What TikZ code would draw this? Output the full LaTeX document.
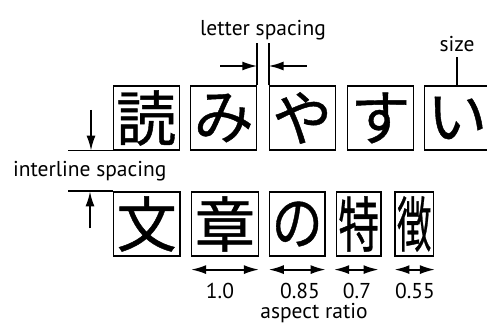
\documentclass[tikz,border=0pt]{standalone}
\usepackage{fontspec}
\usepackage{graphicx}
\setmainfont{PT Sans}
\newfontfamily\cjk[FakeBold=0.7]{Noto Sans CJK JP}
\usetikzlibrary{arrows.meta}
\tikzset{
  kbox/.style={draw, line width=1.2pt, inner sep=0pt, minimum height=64pt, font=\cjk\fontsize{60}{60}\selectfont},
  lbl/.style={inner sep=0pt, anchor=base, font=\fontsize{21.5}{21.5}\selectfont},
  ln/.style={line width=1.8pt},
  arr/.style={line width=1.8pt, -{Latex[length=15pt,width=9pt]}},
  darr/.style={line width=1.8pt, {Latex[length=15pt,width=9pt]}-{Latex[length=15pt,width=9pt]}}
}
\begin{document}
\begin{tikzpicture}[x=1pt,y=-1pt]
\useasboundingbox (0,0) rectangle (487,323);
% top row
\node[kbox, minimum width=66pt] (b1) at (146.3,118) {読};
\node[kbox, minimum width=66pt] (b2) at (223.7,118) {み};
\node[kbox, minimum width=66pt] (b3) at (302.2,118) {や};
\node[kbox, minimum width=66pt] (b4) at (380.5,118) {す};
\node[kbox, minimum width=66pt] (b5) at (457.2,118) {い};
% bottom row
\node[kbox, minimum width=66.7pt] (w1) at (146.7,224) {文};
\node[kbox, minimum width=66.7pt] (w2) at (225,224) {章};
\node[kbox, minimum width=55.7pt] (w3) at (297.2,224) {\scalebox{0.85}[1]{の}};
\node[kbox, minimum width=44.3pt] (w4) at (358.8,224) {\scalebox{0.68}[1]{特}};
\node[kbox, minimum width=38.3pt] (w5) at (414.2,224) {\scalebox{0.57}[1]{徴}};
% labels
\node[lbl] (tls) at (263,36) {letter spacing};
\node[lbl] (tsz) at (457,51.7) {size};
\node[lbl] (til) at (89.7,176.7) {interline spacing};
\node[lbl] (r1) at (220,298.3) {1.0};
\node[lbl] (r2) at (300,298.3) {0.85};
\node[lbl] (r3) at (357,298.3) {0.7};
\node[lbl] (r4) at (415,298.3) {0.55};
\node[lbl] (tar) at (314,318) {aspect ratio};
% letter spacing
\coordinate (lsA) at (b2.north east |- 0,43.5);
\coordinate (lsB) at (b3.north west |- 0,43.5);
\draw[ln] (b2.north east) -- (lsA);
\draw[ln] (b3.north west) -- (lsB);
\coordinate (lsL) at (220,66);
\coordinate (lsR) at (306.7,66);
\draw[arr] (lsL) -- (lsL -| b2.north east);
\draw[arr] (lsR) -- (lsR -| b3.north west);
% size
\coordinate (szT) at (b5.north |- 0,57);
\draw[ln] (b5.north) -- (szT);
% interline
\coordinate (blL) at (68.3,0 |- b1.south);
\draw[ln] (blL) -- (b1.south west);
\coordinate (dnA) at (91,110);
\draw[arr] (dnA) -- (dnA |- b1.south);
\coordinate (tlL) at (68.3,0 |- w1.north);
\draw[ln] (tlL) -- (w1.north west);
\coordinate (upA) at (90,228.3);
\draw[arr] (upA) -- (upA |- w1.north);
% aspect arrows
\draw[darr] ([yshift=-13pt]w2.south west) -- ([yshift=-13pt]w2.south east);
\draw[darr] ([yshift=-13pt]w3.south west) -- ([yshift=-13pt]w3.south east);
\draw[darr] ([yshift=-13pt,xshift=-2pt]w4.south west) -- ([yshift=-13pt,xshift=-3pt]w4.south east);
\draw[darr] ([yshift=-13pt]w5.south west) -- ([yshift=-13pt,xshift=1pt]w5.south east);
\end{tikzpicture}
\end{document}
